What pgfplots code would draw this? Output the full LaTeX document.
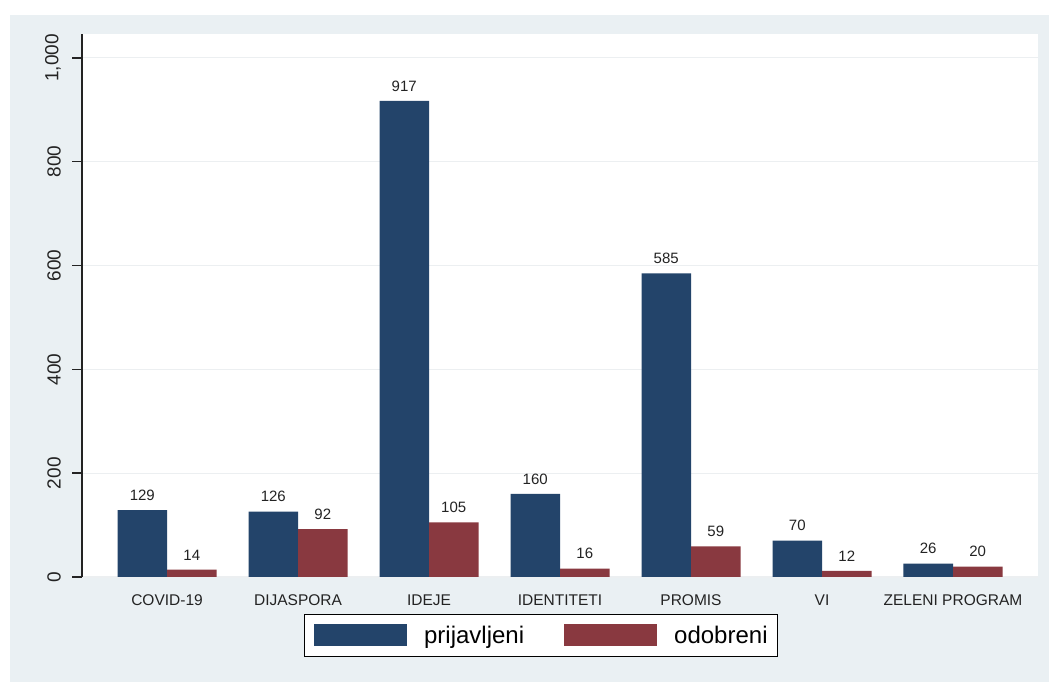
\documentclass[border=0pt]{standalone}
\usepackage{pgfplots}
\pgfplotsset{compat=1.18}
\usepackage{fontspec}
\setmainfont{Liberation Sans}
\definecolor{bgc}{RGB}{234,240,243}
\definecolor{navyc}{RGB}{35,68,106}
\definecolor{maroonc}{RGB}{137,57,64}
\definecolor{gridc}{RGB}{236,239,241}
\definecolor{txt}{RGB}{35,35,35}
\begin{document}
\begin{tikzpicture}
\useasboundingbox (0,0) rectangle (1049pt,682pt);
\fill[white] (0,0) rectangle (1049pt,682pt);
\fill[bgc] (10pt,0) rectangle (1049pt,667pt);
\begin{axis}[
  at={(82pt,105pt)}, anchor=south west,
  scale only axis, width=956pt, height=543pt,
  xmin=-0.649, xmax=6.649, ymin=0, ymax=1046,
  axis background/.style={fill=white},
  axis x line*=bottom, axis y line*=left,
  x axis line style={draw=none},
  y axis line style={line width=1.4pt, color=txt},
  ybar=0pt, bar width=49.5pt,
  xtick={0,...,6},
  xticklabels={COVID-19, DIJASPORA, IDEJE, IDENTITETI, PROMIS, VI, ZELENI PROGRAM},
  xtick style={draw=none},
  ytick={0,200,400,600,800,1000},
  ytick style={line width=1.4pt, color=txt},
  tick align=outside, major tick length=10pt,
  ymajorgrids, y grid style={gridc, line width=1.2pt},
  /pgf/number format/assume math mode=true,
  yticklabel style={xshift=-11pt, font=\fontsize{19}{19}\selectfont, rotate=90, anchor=south, inner sep=0pt, text=txt},
  xticklabel style={font=\fontsize{15.5}{16}\selectfont, anchor=base, yshift=-19pt, text=txt},
  nodes near coords,
  nodes near coords style={font=\fontsize{15}{15}\selectfont, text=txt, anchor=south, inner sep=0pt, yshift=9.5pt},
  legend columns=2,
  legend style={at={(0.480,-0.1077)}, anchor=center, draw=black, line width=1pt, fill=white,
    font=\fontsize{24}{24}\selectfont, inner xsep=10pt, inner ysep=10pt,
    nodes={inner sep=0pt, text=black},
    /tikz/every odd column/.append style={column sep=17pt},
    /tikz/every even column/.append style={column sep=40pt}},
]
\addplot[fill=navyc, draw=none, legend image code/.code={\fill[navyc] (0pt,-11pt) rectangle (93pt,11pt);}]
  coordinates {(0,129) (1,126) (2,917) (3,160) (4,585) (5,70) (6,26)};
\addplot[fill=maroonc, draw=none, legend image code/.code={\fill[maroonc] (0pt,-11pt) rectangle (93pt,11pt);}]
  coordinates {(0,14) (1,92) (2,105) (3,16) (4,59) (5,12) (6,20)};
\legend{prijavljeni, odobreni}
\end{axis}
\end{tikzpicture}
\end{document}
